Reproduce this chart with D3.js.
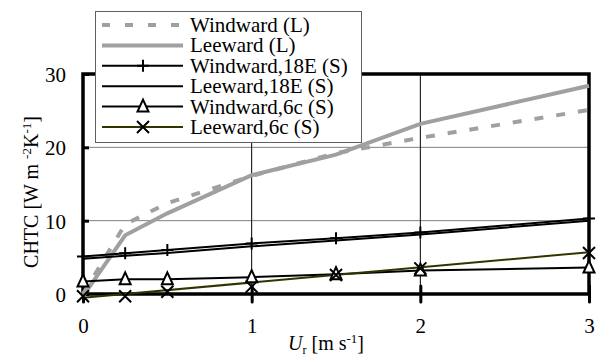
<!DOCTYPE html>
<html>
<head>
<meta charset="utf-8">
<script src="https://cdn.jsdelivr.net/npm/d3@7"></script>
<style>
  body { margin: 0; background: #fff; }
  svg { display: block; }
  text { font-family: "Liberation Serif", "Times New Roman", serif; fill: #000; }
</style>
</head>
<body>
<div id="visual-container"></div>
<script>
// wind speed U_r [m/s]
const speeds = [0, 0.25, 0.5, 1, 1.5, 2, 3]

// CHTC values
const windwardL = [0, 9.5, 12.4, 16.1, 19.2, 21.3, 25.1]
const leewardL = [-0.3, 8.0, 11.0, 16.2, 19.0, 23.2, 28.4]
const windward18E = [5.1, 5.55, 6.0, 6.9, 7.6, 8.4, 10.3]
const leeward18E = [4.8, 5.2, 5.6, 6.5, 7.3, 8.1, 10.0]
const windward6c = [1.7, 2.0, 2.0, 2.3, 2.7, 3.2, 3.6]
const leeward6c = [-0.3, -0.3, 0.3, 1.0, 2.6, 3.5, 5.6]
const leeward6cFitX = [0, 3]
const leeward6cFit = [-0.5, 5.7]

const xTicks = [0, 1, 2, 3]
const yTicks = [0, 10, 20, 30]
const legendLabels = ["Windward (L)", "Leeward (L)", "Windward,18E (S)", "Leeward,18E (S)", "Windward,6c (S)", "Leeward,6c (S)"]

const width = 601
const height = 356
const plotLeft = 83, plotRight = 589, plotTop = 74, plotBottom = 294
const fontSize = '21px'

const svg = d3.select('#visual-container')
  .append('svg')
  .attr('width', width)
  .attr('height', height)

const x = d3.scaleLinear().domain([0, 3]).range([plotLeft, plotRight])
const y = d3.scaleLinear().domain([0, 30]).range([plotBottom, plotTop])

const zip = (xs, ys) => xs.map((v, i) => [v, ys[i]])
const line = d3.line().x(d => x(d[0])).y(d => y(d[1]))

// grid
svg.append('g')
  .selectAll('line')
  .data([10, 20])
  .enter().append('line')
  .attr('x1', plotLeft).attr('x2', plotRight)
  .attr('y1', d => y(d)).attr('y2', d => y(d))
  .attr('stroke', '#808080').attr('stroke-width', 1)

svg.append('g')
  .selectAll('line')
  .data([1, 2])
  .enter().append('line')
  .attr('x1', d => x(d)).attr('x2', d => x(d))
  .attr('y1', plotTop).attr('y2', plotBottom)
  .attr('stroke', '#000').attr('stroke-width', 1)

// frame
svg.append('rect')
  .attr('x', plotLeft).attr('y', plotTop)
  .attr('width', plotRight - plotLeft).attr('height', plotBottom - plotTop)
  .attr('fill', 'none').attr('stroke', '#000').attr('stroke-width', 3.5)

// axes
const yAxis = svg.append('g')
  .attr('transform', `translate(${plotLeft},0)`)
  .call(d3.axisLeft(y).tickValues(yTicks).tickFormat(d3.format('d')).tickSize(7).tickSizeOuter(0))
yAxis.attr('font-family', null).attr('font-size', null)
yAxis.select('.domain').remove()
yAxis.selectAll('.tick line').attr('x2', 6).attr('stroke-width', 3)
yAxis.selectAll('.tick text')
  .attr('x', -17).attr('dy', '0.35em')
  .style('font-size', fontSize)

const xAxis = svg.append('g')
  .attr('transform', `translate(0,${plotBottom})`)
  .call(d3.axisBottom(x).tickValues(xTicks).tickFormat(d3.format('d')).tickSize(8).tickSizeOuter(0))
xAxis.attr('font-family', null).attr('font-size', null)
xAxis.select('.domain').remove()
xAxis.selectAll('.tick line').attr('y1', -8).attr('stroke-width', 3).attr('stroke-linecap', 'round')
xAxis.selectAll('.tick text')
  .attr('y', 24).attr('dy', '0.71em')
  .style('font-size', fontSize)

// series lines
const gray = '#a0a0a0'
const olive = '#333300'

svg.append('path').datum(zip(speeds, leewardL)).attr('d', line)
  .attr('fill', 'none').attr('stroke', gray).attr('stroke-width', 4)
svg.append('path').datum(zip(speeds, windwardL)).attr('d', line)
  .attr('fill', 'none').attr('stroke', gray).attr('stroke-width', 4).attr('stroke-dasharray', '9,13')
svg.append('path').datum(zip(speeds, leeward18E)).attr('d', line)
  .attr('fill', 'none').attr('stroke', '#000').attr('stroke-width', 2)
svg.append('path').datum(zip(speeds, windward18E)).attr('d', line)
  .attr('fill', 'none').attr('stroke', '#000').attr('stroke-width', 2)
svg.append('path').datum(zip(speeds, windward6c)).attr('d', line)
  .attr('fill', 'none').attr('stroke', '#000').attr('stroke-width', 2)
svg.append('path').datum(zip(leeward6cFitX, leeward6cFit)).attr('d', line)
  .attr('fill', 'none').attr('stroke', olive).attr('stroke-width', 2)

// markers
const plus = (g, cx, cy) => {
  g.append('path').attr('d', `M${cx},${cy - 6}V${cy + 6}M${cx - 6},${cy}H${cx + 6}`)
    .attr('stroke', '#000').attr('stroke-width', 2).attr('fill', 'none')
}
const tri = (g, cx, cy) => {
  g.append('path').attr('d', `M${cx},${cy - 7}L${cx + 5.5},${cy + 5}L${cx - 5.5},${cy + 5}Z`)
    .attr('stroke', '#000').attr('stroke-width', 2).attr('fill', '#fff')
}
const cross = (g, cx, cy) => {
  g.append('path').attr('d', `M${cx - 6},${cy - 6}L${cx + 6},${cy + 6}M${cx - 6},${cy + 6}L${cx + 6},${cy - 6}`)
    .attr('stroke', '#000').attr('stroke-width', 2).attr('fill', 'none')
}

const markers = svg.append('g')
speeds.forEach((s, i) => plus(markers, x(s), y(windward18E[i])))
speeds.forEach((s, i) => tri(markers, x(s), y(windward6c[i])))
speeds.forEach((s, i) => cross(markers, x(s), y(leeward6c[i])))

// legend
const lg = svg.append('g')
lg.append('rect')
  .attr('x', 95.5).attr('y', 11.5).attr('width', 266).attr('height', 131)
  .attr('fill', '#fff').attr('stroke', '#606060').attr('stroke-width', 1)

const legendY = d3.scalePoint().domain(legendLabels).range([25, 127])
const lx1 = 102, lx2 = 183, lmx = 143

legendLabels.forEach((label, i) => {
  const ly = legendY(label)
  const seg = lg.append('line').attr('x1', lx1).attr('x2', lx2).attr('y1', ly).attr('y2', ly)
  if (i === 0) seg.attr('stroke', gray).attr('stroke-width', 4).attr('stroke-dasharray', '8,15')
  else if (i === 1) seg.attr('stroke', gray).attr('stroke-width', 4)
  else if (i === 5) seg.attr('stroke', olive).attr('stroke-width', 2)
  else seg.attr('stroke', '#000').attr('stroke-width', 2)
  if (i === 2) plus(lg, lmx, ly)
  if (i === 4) tri(lg, lmx, ly)
  if (i === 5) cross(lg, lmx, ly)
  lg.append('text')
    .attr('x', 190).attr('y', ly).attr('dy', '0.33em')
    .style('font-size', fontSize)
    .text(label)
})

// axis titles
const yt = svg.append('text')
  .attr('transform', 'translate(38,192) rotate(-90)')
  .attr('text-anchor', 'middle')
  .style('font-size', '20px')
yt.append('tspan').text('CHTC [W m ')
yt.append('tspan').attr('dy', -7).style('font-size', '13px').text('-2')
yt.append('tspan').attr('dy', 7).text('K')
yt.append('tspan').attr('dy', -7).style('font-size', '13px').text('-1')
yt.append('tspan').attr('dy', 7).text(']')

const xt = svg.append('text')
  .attr('x', 326).attr('y', 350)
  .attr('text-anchor', 'middle')
  .style('font-size', '20px')
xt.append('tspan').style('font-style', 'italic').text('U')
xt.append('tspan').attr('dy', 4).style('font-size', '12px').text('r')
xt.append('tspan').attr('dy', -4).text(' [m s')
xt.append('tspan').attr('dy', -7).style('font-size', '13px').text('-1')
xt.append('tspan').attr('dy', 7).text(']')
</script>
</body>
</html>
